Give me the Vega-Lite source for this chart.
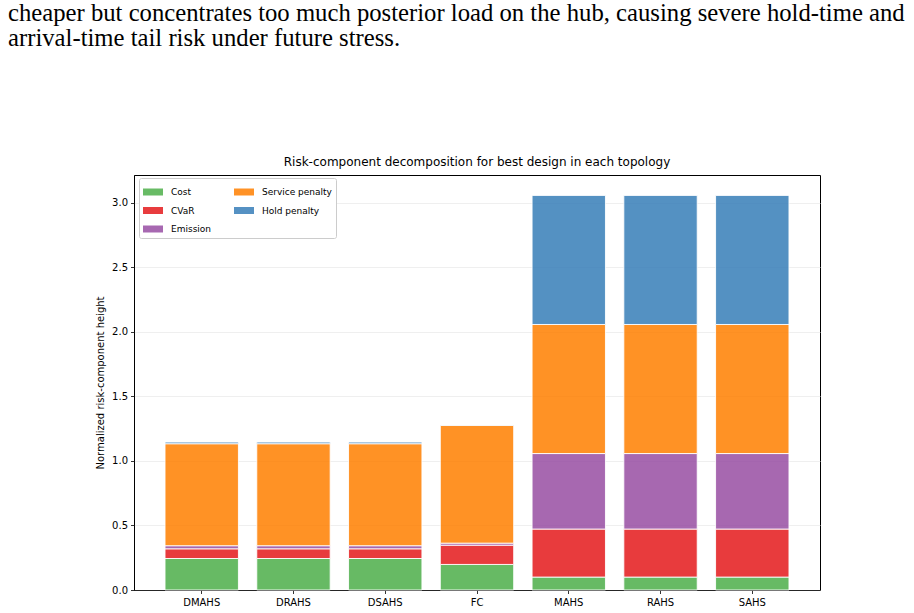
{
  "$schema": "https://vega.github.io/schema/vega-lite/v6.json",
  "autosize": {"type": "pad"},
  "padding": {"left": 8, "top": 1, "right": 4, "bottom": 5},
  "bounds": "flush",
  "background": "white",
  "title": {
    "text": [
      "cheaper but concentrates too much posterior load on the hub, causing severe hold-time and",
      "arrival-time tail risk under future stress."
    ],
    "anchor": "start",
    "frame": "group",
    "dx": -126,
    "offset": 105,
    "font": "Liberation Serif",
    "fontSize": 24.7,
    "fontWeight": "normal",
    "lineHeight": 24.5,
    "color": "#000000"
  },
  "datasets": {
    "components": [
      {"topology": "DMAHS", "component": "Cost", "value": 0.244},
      {"topology": "DMAHS", "component": "CVaR", "value": 0.075},
      {"topology": "DMAHS", "component": "Emission", "value": 0.024},
      {"topology": "DMAHS", "component": "Service penalty", "value": 0.79},
      {"topology": "DMAHS", "component": "Hold penalty", "value": 0.013},
      {"topology": "DRAHS", "component": "Cost", "value": 0.244},
      {"topology": "DRAHS", "component": "CVaR", "value": 0.075},
      {"topology": "DRAHS", "component": "Emission", "value": 0.024},
      {"topology": "DRAHS", "component": "Service penalty", "value": 0.79},
      {"topology": "DRAHS", "component": "Hold penalty", "value": 0.013},
      {"topology": "DSAHS", "component": "Cost", "value": 0.244},
      {"topology": "DSAHS", "component": "CVaR", "value": 0.075},
      {"topology": "DSAHS", "component": "Emission", "value": 0.024},
      {"topology": "DSAHS", "component": "Service penalty", "value": 0.79},
      {"topology": "DSAHS", "component": "Hold penalty", "value": 0.013},
      {"topology": "FC", "component": "Cost", "value": 0.198},
      {"topology": "FC", "component": "CVaR", "value": 0.149},
      {"topology": "FC", "component": "Emission", "value": 0.016},
      {"topology": "FC", "component": "Service penalty", "value": 0.912},
      {"topology": "FC", "component": "Hold penalty", "value": 0.003},
      {"topology": "MAHS", "component": "Cost", "value": 0.1},
      {"topology": "MAHS", "component": "CVaR", "value": 0.372},
      {"topology": "MAHS", "component": "Emission", "value": 0.585},
      {"topology": "MAHS", "component": "Service penalty", "value": 1.0},
      {"topology": "MAHS", "component": "Hold penalty", "value": 1.0},
      {"topology": "RAHS", "component": "Cost", "value": 0.1},
      {"topology": "RAHS", "component": "CVaR", "value": 0.372},
      {"topology": "RAHS", "component": "Emission", "value": 0.585},
      {"topology": "RAHS", "component": "Service penalty", "value": 1.0},
      {"topology": "RAHS", "component": "Hold penalty", "value": 1.0},
      {"topology": "SAHS", "component": "Cost", "value": 0.1},
      {"topology": "SAHS", "component": "CVaR", "value": 0.372},
      {"topology": "SAHS", "component": "Emission", "value": 0.585},
      {"topology": "SAHS", "component": "Service penalty", "value": 1.0},
      {"topology": "SAHS", "component": "Hold penalty", "value": 1.0}
    ]
  },
  "vconcat": [
    {
      "width": 686,
      "height": 415,
      "title": {
        "text": "Risk-component decomposition for best design in each topology",
        "anchor": "middle",
        "font": "DejaVu Sans",
        "fontSize": 12,
        "fontWeight": "normal",
        "color": "#000000",
        "offset": 6
      },
      "data": {"name": "components"},
      "transform": [
        {"calculate": "indexof(['Cost','CVaR','Emission','Service penalty','Hold penalty'], datum.component)", "as": "stack_rank"}
      ],
      "mark": {"type": "bar", "stroke": "white", "strokeWidth": 0.9, "opacity": 0.85},
      "encoding": {
        "x": {
          "field": "topology",
          "type": "nominal",
          "sort": ["DMAHS", "DRAHS", "DSAHS", "FC", "MAHS", "RAHS", "SAHS"],
          "scale": {"paddingInner": 0.2, "paddingOuter": 0.338},
          "axis": {"title": null, "labelAngle": 0, "labelPadding": 4}
        },
        "y": {
          "field": "value",
          "type": "quantitative",
          "stack": "zero",
          "scale": {"domain": [0, 3.215], "nice": false, "zero": true},
          "axis": {
            "title": "Normalized risk-component height",
            "values": [0, 0.5, 1.0, 1.5, 2.0, 2.5, 3.0],
            "format": ".1f",
            "grid": true,
            "labelPadding": 3,
            "titlePadding": 6
          }
        },
        "color": {
          "field": "component",
          "type": "nominal",
          "scale": {
            "domain": ["Cost", "CVaR", "Emission", "Service penalty", "Hold penalty"],
            "range": ["#4daf4a", "#e41a1c", "#984ea3", "#ff7f00", "#377eb8"]
          },
          "legend": {
            "title": null,
            "orient": "none",
            "legendX": 5,
            "legendY": 3,
            "columns": 2,
            "columnPadding": 22,
            "rowPadding": 3.5,
            "padding": 4,
            "strokeColor": "#cccccc",
            "fillColor": "white",
            "cornerRadius": 2,
            "symbolType": "M-1,-0.35H1V0.35H-1Z",
            "symbolSize": 400,
            "symbolStrokeWidth": 0,
            "symbolOpacity": 0.85,
            "labelFont": "DejaVu Sans",
            "labelFontSize": 9,
            "labelColor": "#000000",
            "labelOffset": 8
          }
        },
        "order": {"field": "stack_rank", "type": "quantitative"}
      }
    }
  ],
  "config": {
    "view": {"stroke": "#000000", "strokeWidth": 1},
    "axis": {
      "labelFont": "DejaVu Sans",
      "labelFontSize": 10,
      "labelColor": "#000000",
      "titleFont": "DejaVu Sans",
      "titleFontSize": 10,
      "titleFontWeight": "normal",
      "titleColor": "#000000",
      "tickColor": "#000000",
      "tickSize": 3.5,
      "tickWidth": 0.8,
      "domainColor": "#000000",
      "domainWidth": 0.8,
      "gridColor": "#ebebeb",
      "gridWidth": 0.8
    }
  }
}
